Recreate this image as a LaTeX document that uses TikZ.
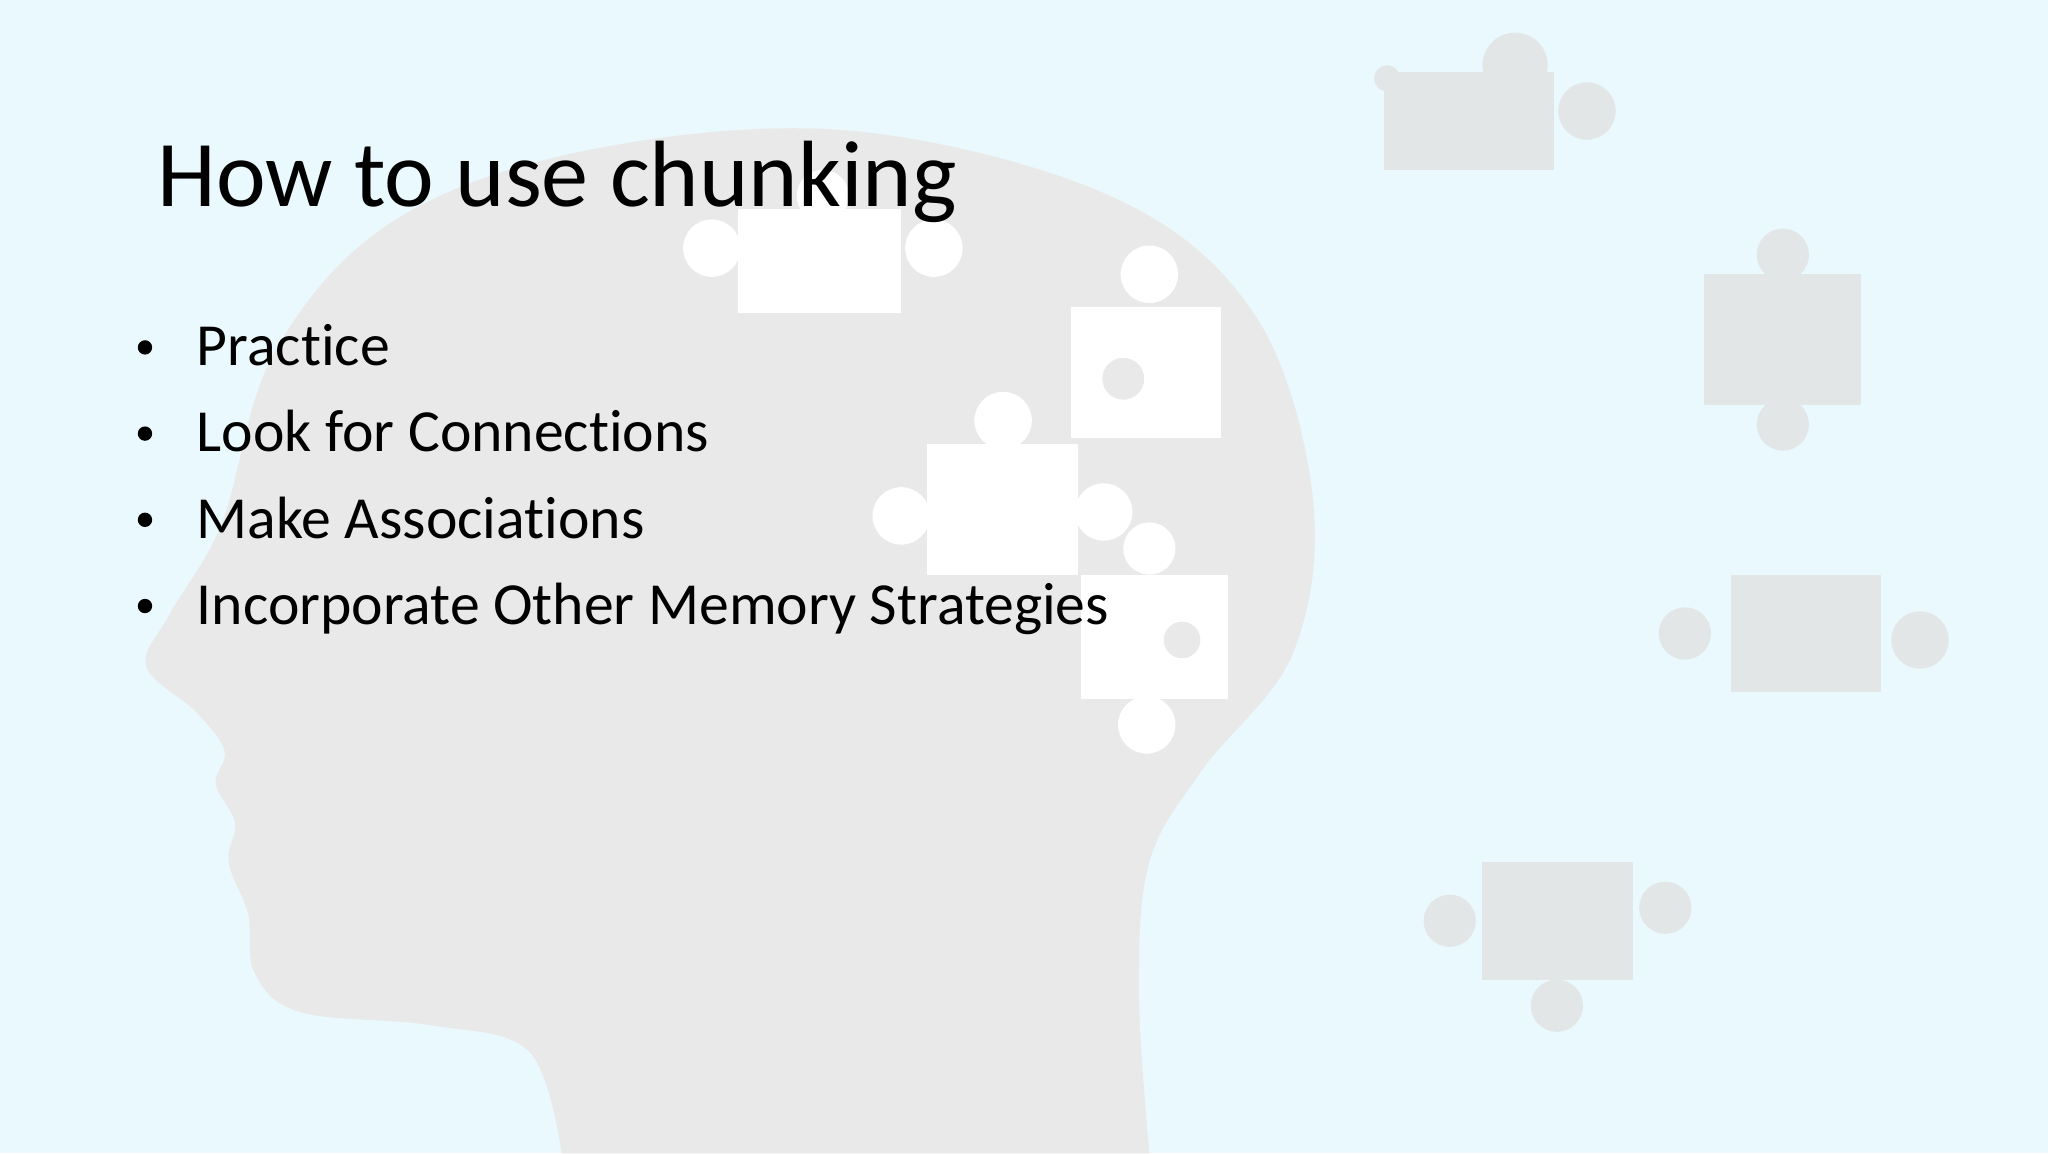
\documentclass[tikz,border=0pt]{standalone}
\usepackage{fontspec}
\setmainfont[Ligatures={NoCommon}]{Carlito}
\definecolor{bg}{HTML}{EAF9FD}
\definecolor{head}{HTML}{E9E9E9}
\definecolor{gp}{HTML}{E3E6E6}
\tikzset{body/.style={font=\fontsize{13}{15}\selectfont,anchor=base west,inner sep=0pt}}
\begin{document}
\begin{tikzpicture}[x=0.01cm,y=-0.01cm]
\fill[bg] (0,0) rectangle (1568,883);
\useasboundingbox (0,0) rectangle (1568,883);
\fill[head] plot[smooth,tension=0.6] coordinates {(430,883)(405,805)(330,785)(230,775)(195,745)(190,700)(175,660)(180,630)(165,600)(172,575)(150,545)(112,510)(130,470)(170,400)(210,270)(300,170)(450,115)(650,100)(850,150)(960,240)(1005,380)(990,500)(920,590)(880,660)(872,760)(880,883)} -- cycle;
% white pieces
\begin{scope}[white]
\fill (565,160) rectangle (690,240); \fill (545,190) circle (22); \fill (715,190) circle (22); \fill (630,150) circle (20);
\fill (820,235) rectangle (935,335); \fill (880,210) circle (22); \fill[head] (860,290) circle (16);
\fill (710,340) rectangle (825,440); \fill (768,322) circle (22); \fill (690,395) circle (22); \fill (845,392) circle (22);
\fill (828,440) rectangle (940,535); \fill (880,420) circle (20); \fill (878,555) circle (22); \fill[head] (905,490) circle (14);
\end{scope}
% gray pieces
\begin{scope}[gp]
\fill (1060,55) rectangle (1190,130); \fill (1160,50) circle (25); \fill (1215,85) circle (22); \fill (1062,60) circle (10);
\fill (1305,210) rectangle (1425,310); \fill (1365,195) circle (20); \fill (1365,325) circle (20);
\fill (1325,440) rectangle (1440,530); \fill (1290,485) circle (20); \fill (1470,490) circle (22);
\fill (1135,660) rectangle (1250,750); \fill (1110,705) circle (20); \fill (1275,695) circle (20); \fill (1192,770) circle (20);
\end{scope}
\node[anchor=base west,inner sep=0pt,font=\fontsize{20.5}{24}\selectfont] (t) at (120,158) {How to use chunking};
\node[body] (b1) at (150,280) {Practice};
\node[body] (b2) at (150,346) {Look for Connections};
\node[body] (b3) at (150,412) {Make Associations};
\node[body] (b4) at (150,478) {Incorporate Other Memory Strategies};
\foreach \y/\n in {266/1,332/2,398/3,464/4} \fill (111,\y) circle (5.5);
\end{tikzpicture}
\end{document}
